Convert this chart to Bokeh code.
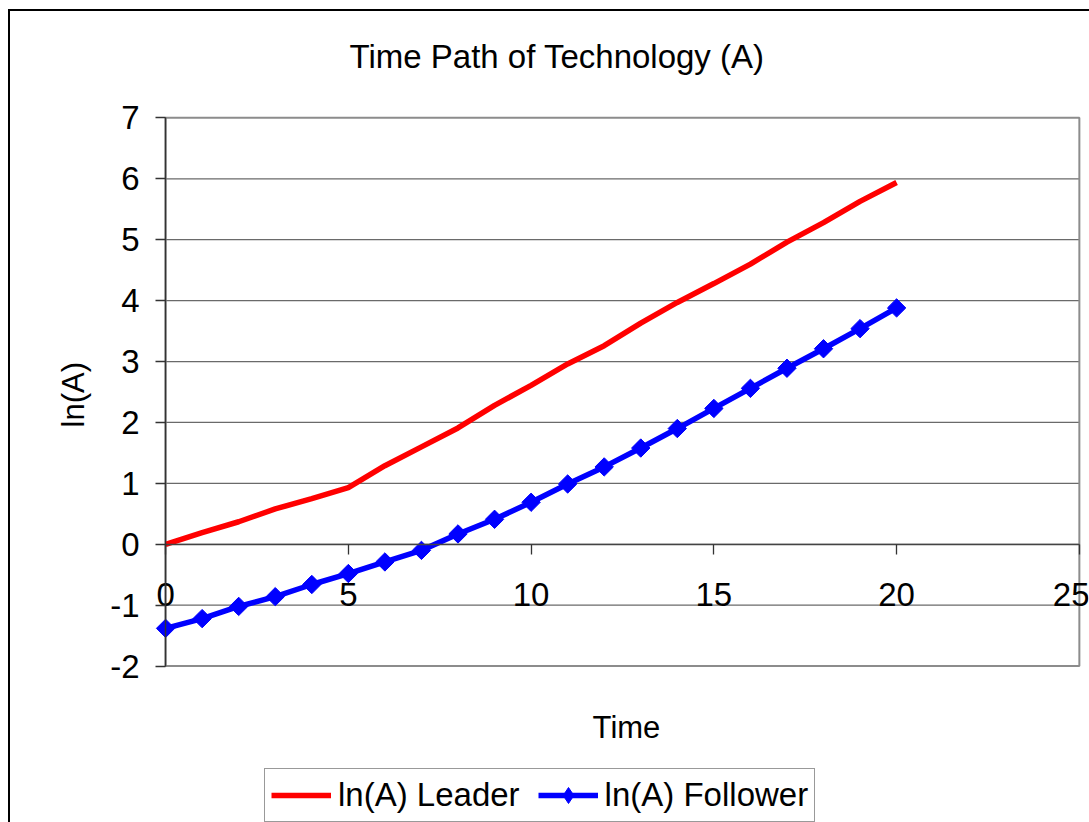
from bokeh.plotting import figure
from bokeh.models import (Title, Legend, LegendItem, SingleIntervalTicker, Range1d,
                          PrintfTickFormatter, Label)
from bokeh.embed import file_html
from bokeh.resources import INLINE

# ---- data ----
time = list(range(0, 21))
leader = [0.00, 0.19, 0.37, 0.58, 0.75, 0.93, 1.29, 1.60, 1.91, 2.28, 2.61,
          2.96, 3.26, 3.63, 3.97, 4.28, 4.60, 4.96, 5.28, 5.63, 5.94]
follower = [-1.38, -1.22, -1.02, -0.86, -0.66, -0.48, -0.29, -0.10, 0.17, 0.41, 0.69,
            0.99, 1.27, 1.58, 1.90, 2.23, 2.56, 2.89, 3.21, 3.54, 3.88]
series_names = ["ln(A) Leader", "ln(A) Follower"]
y_ticks = [-2, -1, 0, 1, 2, 3, 4, 5, 6, 7]
x_ticks = [0, 5, 10, 15, 20, 25]
title_text = "Time Path of Technology (A)"
x_label = "Time"
y_label = "ln(A)"

FONT = "Liberation Sans"

x_min, x_max = x_ticks[0], x_ticks[-1]
y_min, y_max = y_ticks[0], y_ticks[-1]

p = figure(frame_width=996, frame_height=729,
           x_range=Range1d(-2, 25.25), y_range=Range1d(y_min - 2.567, y_max + 0.4),
           output_backend="svg", toolbar_location=None,
           min_border_left=82, min_border_right=1,
           min_border_top=82, min_border_bottom=0,
           background_fill_color="white", border_fill_color="white")
p.styles = {"border-left": "2px solid black", "border-top": "2px solid black",
            "margin-left": "8px", "margin-top": "9px"}
p.outline_line_color = None
p.xgrid.visible = False
p.ygrid.visible = False

# horizontal gridlines across the plot area only
inner = y_ticks[1:-1]
p.segment(x0=[x_min] * len(inner), x1=[x_max] * len(inner), y0=inner, y1=inner,
          line_color="#6a6a6a", line_width=1.3, level="underlay")
# plot-area border
p.quad(left=[x_min], right=[x_max], bottom=[y_min], top=[y_max],
       fill_alpha=0, line_color="#8c8c8c", line_width=2, level="underlay")

# y axis at x = 0
ya = p.yaxis[0]
ya.fixed_location = 0
ya.bounds = (y_min, y_max)
ya.ticker = SingleIntervalTicker(interval=1)
ya.formatter = PrintfTickFormatter(format="%d")
ya.major_label_text_font = FONT
ya.major_label_text_font_size = "33px"
ya.major_label_text_color = "black"
ya.major_label_standoff = 16
ya.major_tick_out = 10
ya.major_tick_in = 0
ya.minor_tick_out = 0
ya.minor_tick_in = 0
ya.axis_line_color = "#333333"
ya.axis_line_width = 1.5
ya.major_tick_line_color = "#333333"
ya.major_tick_line_width = 1.3

# x axis crossing at y = 0
xa = p.xaxis[0]
xa.fixed_location = 0
xa.bounds = (x_min, x_max)
xa.ticker = SingleIntervalTicker(interval=5)
xa.formatter = PrintfTickFormatter(format="%d")
xa.major_label_text_font = FONT
xa.major_label_text_font_size = "33px"
xa.major_label_text_color = "black"
xa.major_label_standoff = 29
xa.major_tick_out = 10
xa.major_tick_in = 0
xa.minor_tick_out = 0
xa.minor_tick_in = 0
xa.axis_line_color = "#444444"
xa.axis_line_width = 1.3
xa.major_tick_line_color = "#333333"
xa.major_tick_line_width = 1.3

# titles
t = Title(text=title_text, align="left", offset=257, standoff=37,
          text_font=FONT, text_font_size="33px", text_font_style="normal",
          text_color="black")
p.add_layout(t, "above")
ty = Title(text=y_label, align="left", offset=395, standoff=4,
           text_font=FONT, text_font_size="31px", text_font_style="normal",
           text_color="black")
p.add_layout(ty, "left")
tx = Label(x=(x_min + x_max) / 2, y=y_min - 1.0, x_offset=4, text=x_label,
           text_align="center", text_baseline="middle",
           text_font=FONT, text_font_size="31px", text_color="black")
p.add_layout(tx)

# lines
r1 = p.line(time, leader, line_color="#ff0000", line_width=5.5)
r2 = p.line(time, follower, line_color="#0000ff", line_width=5.5)
# diamond key (hidden under the point markers; used for the legend symbol)
r_key = p.scatter(time, follower, marker="diamond", size=12,
                  fill_color="#0000ff", line_color="#0000ff")
r3 = p.scatter(time, follower, marker="square", angle=0.785, size=13,
               fill_color="#0000ff", line_color="#0000ff")

legend = Legend(items=[LegendItem(label=series_names[0], renderers=[r1]),
                       LegendItem(label=series_names[1], renderers=[r2, r_key])],
                orientation="horizontal", location=(172, 0),
                label_text_font=FONT, label_text_font_size="33px",
                label_text_color="black",
                glyph_width=60, glyph_height=40, label_standoff=7, spacing=18,
                padding=6, margin=0,
                border_line_color="#333333", border_line_width=1.5,
                background_fill_color="white", background_fill_alpha=1)
p.add_layout(legend, "center")

open("out.html", "w").write(file_html(p, INLINE))
